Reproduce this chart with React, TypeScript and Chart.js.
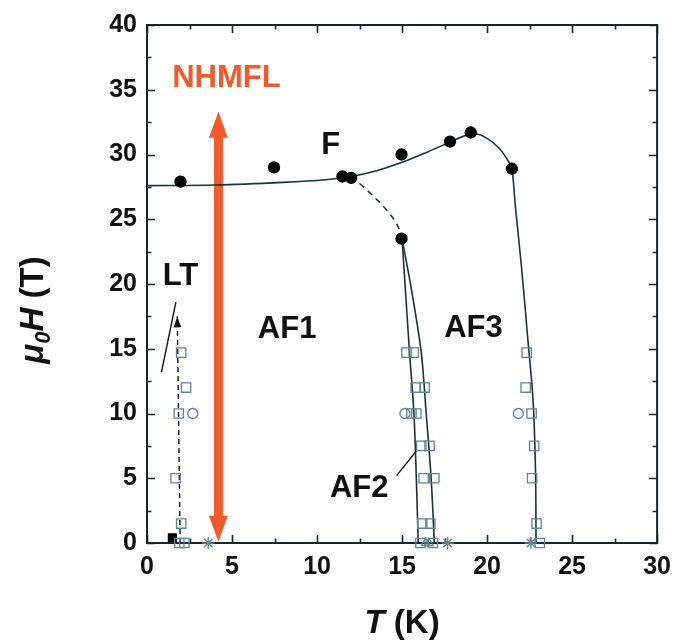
import React, { useEffect, useRef } from "react";
import { Chart, registerables } from "chart.js";

Chart.register(...registerables);

// ---------- axis tick labels ----------
const xTickValues = [0, 5, 10, 15, 20, 25, 30];
const yTickValues = [0, 5, 10, 15, 20, 25, 30, 35, 40];

// ---------- phase boundaries (T in K, mu0H in T) ----------
const fBoundaryT = [0, 4, 8, 10.5, 12, 13.5, 15, 16.5, 17.8, 18.6, 19.3, 20.0, 20.7, 21.15, 21.45, 21.65, 22.04, 22.38, 22.71, 22.85, 22.88];
const fBoundaryH = [27.6, 27.65, 27.85, 28.05, 28.3, 28.75, 29.4, 30.2, 30.95, 31.4, 31.6, 31.25, 30.5, 29.7, 28.9, 26.2, 21.1, 16.0, 10.9, 5.5, 0];

const dashedBoundaryT = [12.0, 12.9, 14.1, 14.7, 15.0];
const dashedBoundaryH = [28.3, 27.3, 25.7, 24.6, 23.5];

const af2LeftT = [15.0, 15.2, 15.44, 15.7, 15.84, 15.95];
const af2LeftH = [23.5, 19.5, 14.7, 10.0, 5.0, 0];

const af2RightT = [15.0, 15.55, 16.13, 16.42, 16.71, 16.9];
const af2RightH = [23.5, 19.6, 14.7, 10.0, 5.0, 0];

const ltArrowT = [1.95, 1.78];
const ltArrowH = [0, 17.5];

const ltPointerT = [0.85, 1.7];
const ltPointerH = [13.2, 18.6];

const af2PointerT = [14.68, 15.84];
const af2PointerH = [5.2, 7.1];

// ---------- measured points ----------
const filledCircleT = [1.97, 7.47, 11.49, 12.01, 14.97, 14.97, 17.82, 19.04, 21.46];
const filledCircleH = [27.9, 29.0, 28.3, 28.2, 23.5, 30.0, 31.0, 31.7, 28.9];

const openSquareT = [2.01, 2.3, 1.87, 1.68, 2.01, 1.9, 2.2,
  15.26, 15.69, 15.8, 16.33, 15.55, 15.84, 16.13, 16.62, 16.27, 16.9, 16.19, 16.66, 16.08, 16.81,
  22.33, 22.27, 22.62, 22.77, 22.65, 22.91, 23.1];
const openSquareH = [14.7, 12.0, 10.0, 5.0, 1.5, 0, 0,
  14.7, 14.7, 12.0, 12.0, 10.0, 10.0, 7.5, 7.5, 5.0, 5.0, 1.5, 1.5, 0, 0,
  14.7, 12.0, 10.0, 7.5, 5.0, 1.5, 0];

const openCircleT = [2.69, 15.17, 21.84];
const openCircleH = [10.0, 10.0, 10.0];

const triangleT = [16.39, 16.58];
const triangleH = [0, 0];

const asteriskT = [3.6, 17.68, 22.58];
const asteriskH = [0, 0, 0];

const filledSquareT = [1.49];
const filledSquareH = [0.4];

// ---------- NHMFL arrow (data coords) ----------
const nhmflArrowT = 4.2;
const nhmflArrowTopH = 33.3;
const nhmflArrowBottomH = 0.1;

// ---------- text annotations ----------
const annotationText = ["F", "NHMFL", "LT", "AF1", "AF3", "AF2"];
const annotationT = [10.8, 4.67, 1.97, 8.24, 19.2, 12.48];
const annotationH = [30.7, 35.9, 20.6, 16.5, 16.6, 4.2];

const FONT = "'Liberation Sans', Arial, Helvetica, sans-serif";
const LINE_COLOR = "#1f3139";
const MARKER_COLOR = "#5c8599";
const ORANGE = "#f15a2b";
const AXIS_COLOR = "#1b262b";

const zip = (ts: number[], hs: number[]) => ts.map((t, i) => ({ x: t, y: hs[i] }));

const framePlugin = {
  id: "frameAndDecor",
  beforeDatasetsDraw(chart: any) {
    const { ctx, chartArea: a, scales } = chart;
    const xs = scales.x;
    const ys = scales.y;
    ctx.save();
    // NHMFL double arrow
    const ax = xs.getPixelForValue(nhmflArrowT);
    const top = ys.getPixelForValue(nhmflArrowTopH);
    const bot = ys.getPixelForValue(nhmflArrowBottomH);
    const headLen = 26;
    const headHalf = 9.5;
    ctx.fillStyle = ORANGE;
    ctx.fillRect(ax - 4.5, top + headLen - 1, 9, bot - top - 2 * headLen + 2);
    ctx.beginPath();
    ctx.moveTo(ax, top);
    ctx.lineTo(ax + headHalf, top + headLen);
    ctx.lineTo(ax - headHalf, top + headLen);
    ctx.closePath();
    ctx.fill();
    ctx.beginPath();
    ctx.moveTo(ax, bot);
    ctx.lineTo(ax + headHalf, bot - headLen);
    ctx.lineTo(ax - headHalf, bot - headLen);
    ctx.closePath();
    ctx.fill();

    // frame
    ctx.strokeStyle = AXIS_COLOR;
    ctx.lineWidth = 2;
    ctx.strokeRect(a.left, a.top, a.right - a.left, a.bottom - a.top);
    ctx.lineWidth = 1.6;
    const drawX = (v: number, len: number) => {
      const px = Math.round(xs.getPixelForValue(v)) + 0.5;
      ctx.beginPath();
      ctx.moveTo(px, a.bottom);
      ctx.lineTo(px, a.bottom - len);
      ctx.moveTo(px, a.top);
      ctx.lineTo(px, a.top + len);
      ctx.stroke();
    };
    const drawY = (v: number, len: number) => {
      const py = Math.round(ys.getPixelForValue(v)) + 0.5;
      ctx.beginPath();
      ctx.moveTo(a.left, py);
      ctx.lineTo(a.left + len, py);
      ctx.moveTo(a.right, py);
      ctx.lineTo(a.right - len, py);
      ctx.stroke();
    };
    for (let i = 0; i < xTickValues.length; i++) {
      drawX(xTickValues[i], 8);
      if (i < xTickValues.length - 1) drawX((xTickValues[i] + xTickValues[i + 1]) / 2, 4.5);
    }
    for (let i = 0; i < yTickValues.length; i++) {
      drawY(yTickValues[i], 8);
      if (i < yTickValues.length - 1) drawY((yTickValues[i] + yTickValues[i + 1]) / 2, 4.5);
    }
    ctx.restore();
  },
  afterDatasetsDraw(chart: any) {
    const { ctx, scales } = chart;
    const xs = scales.x;
    const ys = scales.y;
    ctx.save();
    // LT arrow head
    const n = ltArrowT.length;
    const x1 = xs.getPixelForValue(ltArrowT[n - 2]);
    const y1 = ys.getPixelForValue(ltArrowH[n - 2]);
    const x2 = xs.getPixelForValue(ltArrowT[n - 1]);
    const y2 = ys.getPixelForValue(ltArrowH[n - 1]);
    const ang = Math.atan2(y2 - y1, x2 - x1);
    ctx.translate(x2, y2);
    ctx.rotate(ang);
    ctx.fillStyle = "#111";
    ctx.beginPath();
    ctx.moveTo(0, 0);
    ctx.lineTo(-11, 3.8);
    ctx.lineTo(-11, -3.8);
    ctx.closePath();
    ctx.fill();
    ctx.setTransform(1, 0, 0, 1, 0, 0);

    // annotations
    ctx.textAlign = "center";
    ctx.textBaseline = "middle";
    for (let i = 0; i < annotationText.length; i++) {
      const isN = annotationText[i] === "NHMFL";
      ctx.font = `bold ${isN ? 31 : 31}px ${FONT}`;
      ctx.fillStyle = isN ? ORANGE : "#111";
      ctx.fillText(annotationText[i], xs.getPixelForValue(annotationT[i]), ys.getPixelForValue(annotationH[i]));
    }

    // axis titles
    const a = chart.chartArea;
    ctx.fillStyle = "#111";
    ctx.textAlign = "left";
    ctx.textBaseline = "alphabetic";
    const S = 33;
    const xParts = [
      { t: "T", f: `italic bold ${S}px ${FONT}`, dy: 0 },
      { t: " (K)", f: `bold ${S}px ${FONT}`, dy: 0 },
    ];
    let w = 0;
    for (const p of xParts) { ctx.font = p.f; w += ctx.measureText(p.t).width; }
    let cx = (a.left + a.right) / 2 - w / 2;
    for (const p of xParts) { ctx.font = p.f; ctx.fillText(p.t, cx, 633 + p.dy); cx += ctx.measureText(p.t).width; }

    const yParts = [
      { t: "\u03bc", f: `italic bold ${S}px ${FONT}`, dy: 0 },
      { t: "0", f: `italic bold ${Math.round(S * 0.68)}px ${FONT}`, dy: 7 },
      { t: "H", f: `italic bold ${S}px ${FONT}`, dy: 0 },
      { t: " (T)", f: `bold ${S}px ${FONT}`, dy: 0 },
    ];
    w = 0;
    for (const p of yParts) { ctx.font = p.f; w += ctx.measureText(p.t).width; }
    ctx.translate(43, 310);
    ctx.rotate(-Math.PI / 2);
    cx = -w / 2;
    for (const p of yParts) { ctx.font = p.f; ctx.fillText(p.t, cx, p.dy); cx += ctx.measureText(p.t).width; }
    ctx.restore();
  },
};

export default function App() {
  const ref = useRef<HTMLCanvasElement | null>(null);
  useEffect(() => {
    document.body.style.margin = "0";
    if (!ref.current) return;
    const lineDs = (data: any, extra: any = {}) => ({
      data,
      showLine: true,
      borderColor: LINE_COLOR,
      borderWidth: 1.6,
      pointRadius: 0,
      tension: 0.35,
      fill: false,
      order: 5,
      ...extra,
    });
    const markerDs = (data: any, extra: any = {}) => ({
      data,
      showLine: false,
      pointRadius: 5,
      pointBorderWidth: 1.3,
      pointBorderColor: MARKER_COLOR,
      pointBackgroundColor: "rgba(0,0,0,0)",
      clip: false,
      order: 1,
      ...extra,
    });
    const chart = new Chart(ref.current, {
      type: "scatter",
      data: {
        datasets: [
          lineDs(zip(fBoundaryT, fBoundaryH)),
          lineDs(zip(dashedBoundaryT, dashedBoundaryH), { borderDash: [6, 5] }),
          lineDs(zip(af2LeftT, af2LeftH), { tension: 0.3 }),
          lineDs(zip(af2RightT, af2RightH), { tension: 0.3 }),
          lineDs(zip(ltArrowT, ltArrowH), { borderDash: [5, 4], tension: 0, borderColor: "#111", borderWidth: 1.4 }),
          lineDs(zip(ltPointerT, ltPointerH), { tension: 0, borderColor: "#111", borderWidth: 1.4 }),
          lineDs(zip(af2PointerT, af2PointerH), { tension: 0, borderColor: "#111", borderWidth: 1.4 }),
          markerDs(zip(openSquareT, openSquareH), { pointStyle: "rect", pointRadius: 6.6 }),
          markerDs(zip(openCircleT, openCircleH), { pointStyle: "circle", pointRadius: 5 }),
          markerDs(zip(triangleT, triangleH), { pointStyle: "triangle", pointRadius: 5 }),
          markerDs(zip(asteriskT, asteriskH), { pointStyle: "star", pointRadius: 6 }),
          markerDs(zip(filledSquareT, filledSquareH), { pointStyle: "rect", pointRadius: 5.5, pointBackgroundColor: "#000", pointBorderColor: "#000" }),
          markerDs(zip(filledCircleT, filledCircleH), { pointStyle: "circle", pointRadius: 5.5, pointBackgroundColor: "#000", pointBorderColor: "#000", order: 0 }),
        ],
      },
      options: {
        responsive: false,
        animation: false,
        devicePixelRatio: 1,
        events: [],
        layout: { padding: { left: 0, right: 16, top: 19, bottom: 0 } },
        plugins: { legend: { display: false }, tooltip: { enabled: false } },
        scales: {
          x: {
            type: "linear",
            min: 0,
            max: 30,
            afterBuildTicks: (s: any) => { s.ticks = xTickValues.map((v) => ({ value: v })); },
            afterFit: (s: any) => { s.height = 100; },
            ticks: { font: { family: FONT, size: 25, weight: "bold" }, color: "#111", padding: 9, maxRotation: 0, autoSkip: false },
            grid: { display: false, drawTicks: false },
            border: { display: false },
          },
          y: {
            type: "linear",
            min: 0,
            max: 40,
            afterBuildTicks: (s: any) => { s.ticks = yTickValues.map((v) => ({ value: v })); },
            afterFit: (s: any) => { s.width = 147; },
            ticks: { font: { family: FONT, size: 25, weight: "bold" }, color: "#111", padding: 10, autoSkip: false },
            grid: { display: false, drawTicks: false },
            border: { display: false },
          },
        },
      },
      plugins: [framePlugin],
    } as any);
    return () => chart.destroy();
  }, []);
  return (
    <div style={{ width: 680, height: 643 }}>
      <canvas ref={ref} width={680} height={643} />
    </div>
  );
}
